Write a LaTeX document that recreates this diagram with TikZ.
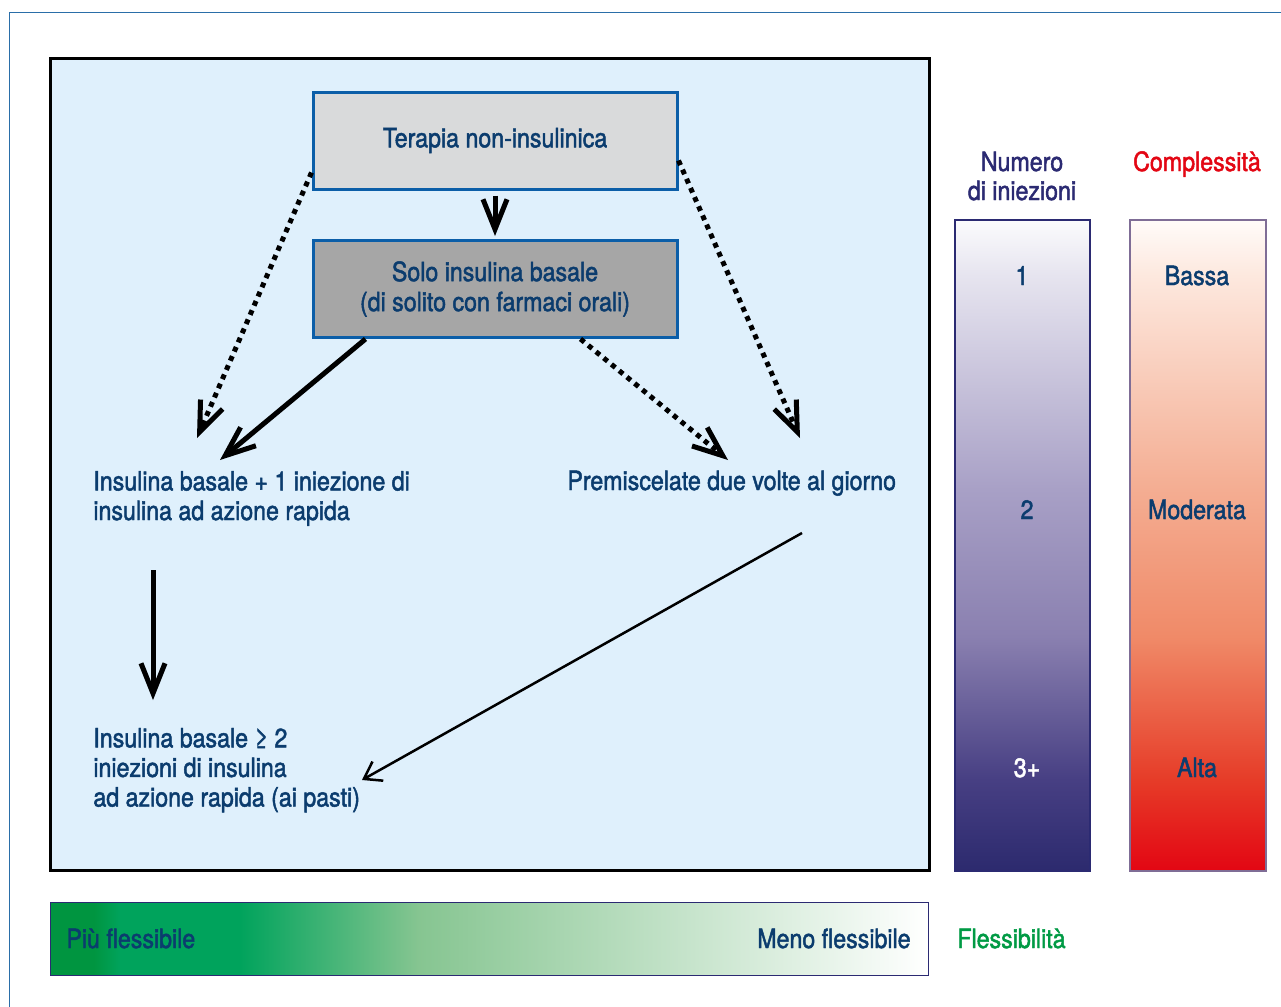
\documentclass[tikz,border=0pt]{standalone}
\usepackage{fontspec}
\setmainfont{TeX Gyre Heros}[FakeStretch=0.875,FakeBold=1.8]
\usetikzlibrary{arrows.meta,calc}
\definecolor{txt}{HTML}{0B3C6E}
\definecolor{navy}{HTML}{2B2A72}
\definecolor{redc}{HTML}{E30613}
\definecolor{greenc}{HTML}{009A44}
\definecolor{frameblue}{HTML}{2A6EA8}
\definecolor{boxblue}{HTML}{0B5EA8}
\definecolor{bgblue}{HTML}{DFF0FC}
\definecolor{grayA}{HTML}{D9DADB}
\definecolor{grayB}{HTML}{A6A6A6}
% injection bar
\definecolor{nA}{HTML}{2C2A6E}
\definecolor{nB}{HTML}{473F83}
\definecolor{nC}{HTML}{8A80B0}
\definecolor{nD}{HTML}{A8A0C6}
\definecolor{nE}{HTML}{E6E4EF}
\definecolor{nF}{HTML}{FBFBFD}
% complexity bar
\definecolor{rA}{HTML}{E30613}
\definecolor{rB}{HTML}{E63C28}
\definecolor{rC}{HTML}{F08A68}
\definecolor{rD}{HTML}{F4AD92}
\definecolor{rE}{HTML}{FDE8DE}
\definecolor{rF}{HTML}{FFFBF9}
% flexibility bar
\definecolor{gA}{HTML}{009540}
\definecolor{gB}{HTML}{00A35C}
\definecolor{gC}{HTML}{86C591}
\pgfdeclareverticalshading{injshade}{100bp}{color(0bp)=(nA); color(25bp)=(nA); color(32bp)=(nB); color(43bp)=(nC); color(54.3bp)=(nD); color(70.7bp)=(nE); color(75bp)=(nF); color(100bp)=(nF)}
\pgfdeclareverticalshading{cplxshade}{100bp}{color(0bp)=(rA); color(25bp)=(rA); color(32bp)=(rB); color(43bp)=(rC); color(54.3bp)=(rD); color(70.7bp)=(rE); color(75bp)=(rF); color(100bp)=(rF)}
\pgfdeclarehorizontalshading{flexshade}{100bp}{color(0bp)=(gA); color(25bp)=(gA); color(27.5bp)=(gA); color(29bp)=(gB); color(35.8bp)=(gB); color(46bp)=(gC); color(75bp)=(white); color(100bp)=(white)}
\tikzset{
  lbl/.style={font=\fontsize{13.25}{14.8}\selectfont, text=txt, inner sep=0pt, align=left},
  clbl/.style={font=\fontsize{13.25}{14.8}\selectfont, text=txt, inner sep=0pt, align=center},
  flowbox/.style={draw=boxblue, line width=1.5pt, minimum width=182pt, minimum height=48.5pt, inner sep=0pt, align=center, font=\fontsize{13.25}{15}\selectfont, text=txt},
  bar/.style={line width=0.6pt, minimum width=67.5pt, minimum height=325.5pt, inner sep=0pt},
  thickarr/.style={line width=2.5pt, -{Straight Barb[length=15pt,width=12pt]}},
  dotarr/.style={line width=2.5pt, dash pattern=on 2.5pt off 2.5pt, -{Straight Barb[length=15pt,width=12pt]}},
  thinarr/.style={line width=1.25pt, -{Straight Barb[length=8pt,width=11pt]}}
}
\begin{document}
\begin{tikzpicture}[x=0.5pt,y=-0.5pt]
\useasboundingbox (0,0) rectangle (1281,1007);
% outer frame
\draw[frameblue, line width=0.75pt] (9.5,1010) -- (9.5,12.5) -- (1285,12.5);
% main panel
\node[draw=black, line width=1.5pt, fill=bgblue, minimum width=439.5pt, minimum height=406pt, inner sep=0pt] (main) at (489.5,464) {};
% flow boxes
\node[flowbox, fill=grayA] (b1) at (495,140.5) {Terapia non-insulinica};
\node[flowbox, fill=grayB] (b2) at (495,289) {Solo insulina basale\\(di solito con farmaci orali)};
% text blocks (base anchor = last line)
\node[lbl, anchor=base west] (t1) at (93,520) {Insulina basale + 1 iniezione di\\insulina ad azione rapida};
\node[lbl, anchor=base west] (t2) at (567,490) {Premiscelate due volte al giorno};
\node[lbl, anchor=base west] (t3) at (93,806.5) {Insulina basale ≥ 2\\iniezioni di insulina\\ad azione rapida (ai pasti)};
% arrow end points
\coordinate (dl) at (197,438);
\coordinate (dr) at (800,438);
\coordinate (sl) at (220,460);
\coordinate (sr) at (728,460);
\coordinate (v1) at (153,570);
\coordinate (v2) at (153,700);
\coordinate (p1) at (802,533);
\coordinate (p2) at (362,780);
% arrows
\draw[thickarr, shorten <=2.5pt, shorten >=1.5pt] (b1.south) -- (b2.north);
\draw[dotarr] ($(b1.south west)+(0,-18)$) -- (dl);
\draw[dotarr] ($(b1.south east)+(0,-30)$) -- (dr);
\draw[thickarr] ($(b2.south west)+(54,0)$) -- (sl);
\draw[dotarr] ($(b2.south west)+(269,0)$) -- (sr);
\draw[thickarr] (v1) -- (v2);
\draw[thinarr] (p1) -- (p2);
% right column
\node[font=\fontsize{13.25}{14.5}\selectfont, text=navy, align=center, inner sep=0pt, anchor=base] (hinj) at (1022,200) {Numero\\di iniezioni};
\node[font=\fontsize{13.25}{14.5}\selectfont, text=redc, inner sep=0pt, anchor=base] (hcplx) at (1197,171) {Complessità};
\node[bar, draw=navy, shading=injshade] (bar1) at (1022.5,545.5) {};
\node[bar, draw={rgb,255:red,127;green,109;blue,150}, shading=cplxshade, minimum width=68pt] (bar2) at (1198,545.5) {};
\node[clbl, anchor=base] (n1) at (1022,285) {1};
\node[clbl, anchor=base] (n2) at (1027,519) {2};
\node[clbl, anchor=base, text=white] (n3) at (1027,777) {3+};
\node[clbl, anchor=base] (c1) at (1197,285) {Bassa};
\node[clbl, anchor=base] (c2) at (1197,519) {Moderata};
\node[clbl, anchor=base] (c3) at (1197,777) {Alta};
% flexibility bar
\node[draw=navy, line width=0.5pt, shading=flexshade, minimum width=439pt, minimum height=36.5pt, inner sep=0pt] (flex) at (489,938.5) {};
\node[lbl, anchor=base west] (fl1) at (66,948) {Più flessibile};
\node[lbl, anchor=base east] (fl2) at (911,948) {Meno flessibile};
\node[lbl, anchor=base west, text=greenc] (fl3) at (957,948) {Flessibilità};
\end{tikzpicture}
\end{document}
